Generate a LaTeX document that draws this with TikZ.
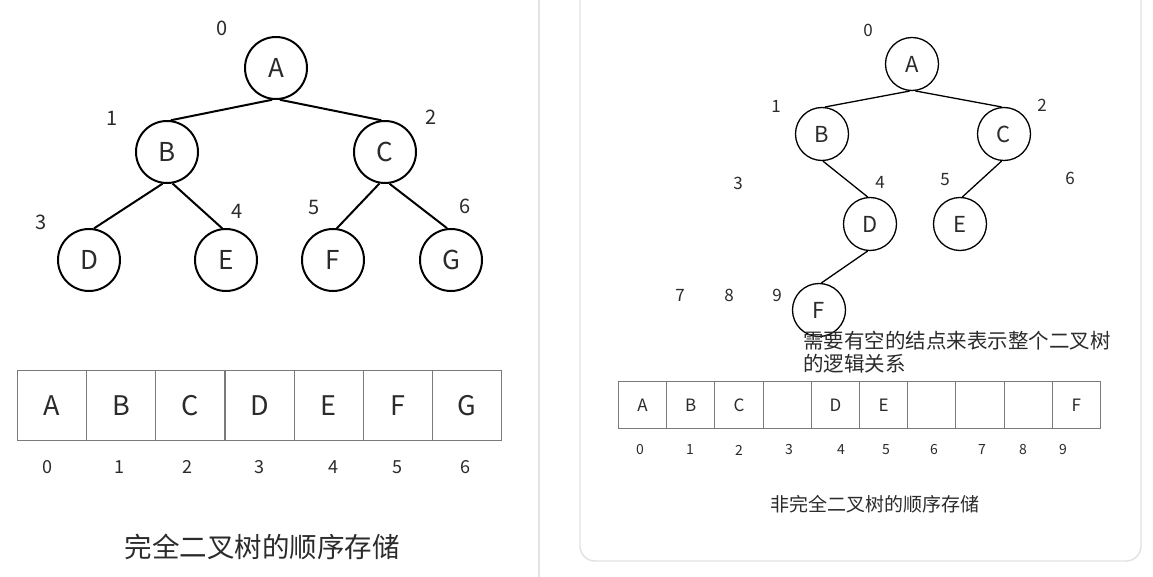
\documentclass[tikz,border=0pt]{standalone}
\usepackage{fontspec}
\setmainfont{Noto Sans CJK SC}
\definecolor{txt}{HTML}{2B2B2B}
\definecolor{grid}{HTML}{7A7A7A}
\definecolor{panel}{HTML}{E2E2E6}
\begin{document}
\begin{tikzpicture}[x=1pt,y=-1pt,
  ltree/.style={circle,draw=black,line width=2pt,minimum size=62pt,inner sep=0pt,text=txt,font=\fontsize{26}{26}\selectfont},
  rtree/.style={circle,draw=black,line width=1.3pt,minimum size=53pt,inner sep=0pt,text=txt,font=\fontsize{22}{22}\selectfont},
  lidx/.style={text=txt,inner sep=0pt,font=\fontsize{20}{20}\selectfont},
  ridx/.style={text=txt,inner sep=0pt,font=\fontsize{17}{17}\selectfont},
  lcell/.style={draw=grid,line width=1.2pt,minimum width=69.14pt,minimum height=70pt,inner sep=0pt,anchor=north west,text=txt,font=\fontsize{27}{27}\selectfont},
  rcell/.style={draw=grid,line width=1pt,minimum width=48.2pt,minimum height=47pt,inner sep=0pt,anchor=north west,text=txt,font=\fontsize{17}{17}\selectfont},
  laidx/.style={text=txt,inner sep=0pt,font=\fontsize{18}{18}\selectfont},
  raidx/.style={text=txt,inner sep=0pt,font=\fontsize{14}{14}\selectfont},
  ledge/.style={line width=2pt},
  redge/.style={line width=1.3pt}]
\useasboundingbox (0,0) rectangle (1153,577);
\fill[white] (0,0) rectangle (1153,577);
% divider and panel
\draw[panel,line width=1.2pt] (539,0) -- (539,577);
\draw[panel,line width=1.4pt,rounded corners=15pt] (580,-30) rectangle (1141,561);

% ---------- left tree ----------
\node[ltree] (lA) at (276,68) {A};
\node[ltree] (lB) at (167,152) {B};
\node[ltree] (lC) at (385,152) {C};
\node[ltree] (lD) at (89,260) {D};
\node[ltree] (lE) at (226,260) {E};
\node[ltree] (lF) at (333,260) {F};
\node[ltree] (lG) at (451,260) {G};
\draw[ledge] (lA.263) -- (lB.83);
\draw[ledge] (lA.277) -- (lC.97);
\draw[ledge] (lB.262) -- (lD.81);
\draw[ledge] (lB.280) -- (lE.97);
\draw[ledge] (lC.260) -- (lF.83);
\draw[ledge] (lC.278) -- (lG.97);
\node[lidx] (li0) at (222,28) {0};
\node[lidx] (li1) at (112,118) {1};
\node[lidx] (li2) at (431,117) {2};
\node[lidx] (li3) at (41,222) {3};
\node[lidx] (li4) at (237,211) {4};
\node[lidx] (li5) at (314,208) {5};
\node[lidx] (li6) at (465,206) {6};

% ---------- left array ----------
\foreach \t [count=\i from 0] in {A,B,C,D,E,F,G}
  \node[lcell] (lc\i) at ({17+\i*69.14},370) {\t};
\foreach \x [count=\i from 0] in {47,119,187,259,333,397,465}
  \node[laidx] (lk\i) at (\x,467) {\i};
\node[text=txt,inner sep=0pt,font=\fontsize{27.5}{27.5}\selectfont] (lcap) at (262,547) {完全二叉树的顺序存储};

% ---------- right tree ----------
\node[rtree] (rA) at (912,64) {A};
\node[rtree] (rB) at (822,134) {B};
\node[rtree] (rC) at (1004,134) {C};
\node[rtree] (rD) at (870,224) {D};
\node[rtree] (rE) at (960,224) {E};
\node[rtree] (rF) at (819,310) {F};
\draw[redge] (rA.265) -- (rB.84);
\draw[redge] (rA.277) -- (rC.95);
\draw[redge] (rB.272) -- (rD.95);
\draw[redge] (rC.265) -- (rE.85);
\draw[redge] (rD.265) -- (rF.85);
\node[ridx] (ri0) at (868,30) {0};
\node[ridx] (ri1) at (776,106) {1};
\node[ridx] (ri2) at (1042,105) {2};
\node[ridx] (ri3) at (738,183) {3};
\node[ridx] (ri4) at (880,182) {4};
\node[ridx] (ri5) at (945,180) {5};
\node[ridx] (ri6) at (1070,178) {6};
\node[ridx] (ri7) at (680,295) {7};
\node[ridx] (ri8) at (729,295) {8};
\node[ridx] (ri9) at (777,295) {9};
\node[text=txt,inner sep=0pt,anchor=north west,align=left,font=\fontsize{20.5}{23}\selectfont] (note) at (803,331) {需要有空的结点来表示整个二叉树\\的逻辑关系};

% ---------- right array ----------
\foreach \t [count=\i from 0] in {A,B,C,{},D,E,{},{},{},F}
  \node[rcell] (rc\i) at ({618+\i*48.2},381) {\t};
\foreach \x [count=\i from 0] in {640,690,739,789,841,886,934,982,1023,1063}
  \node[raidx] (rk\i) at (\x,450) {\i};
\node[text=txt,inner sep=0pt,font=\fontsize{19}{19}\selectfont] (rcap) at (875,504) {非完全二叉树的顺序存储};
\end{tikzpicture}
\end{document}
